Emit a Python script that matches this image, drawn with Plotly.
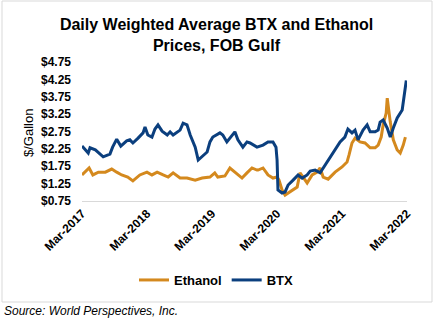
import plotly.graph_objects as go

btx_dates = ["2017-03-01","2017-04-05","2017-04-15","2017-05-15","2017-06-28","2017-08-05","2017-08-20",
             "2017-09-12","2017-10-05","2017-11-07","2017-11-25","2017-12-12","2018-01-10","2018-02-07",
             "2018-02-18","2018-03-06","2018-03-29","2018-04-15","2018-05-02","2018-05-25","2018-06-23",
             "2018-07-09","2018-07-26","2018-08-17","2018-09-03","2018-09-20","2018-10-12","2018-10-30",
             "2018-11-27","2018-12-14","2019-01-05","2019-02-02","2019-02-18","2019-03-06","2019-04-15",
             "2019-05-01","2019-05-24","2019-06-21","2019-07-08","2019-07-25","2019-08-22","2019-09-14",
             "2019-10-01","2019-11-09","2019-12-13","2020-01-10","2020-02-07","2020-02-24","2020-03-01",
             "2020-03-06","2020-03-29","2020-04-15","2020-05-02","2020-05-30","2020-06-27","2020-07-20",
             "2020-08-17","2020-09-03","2020-10-01","2020-10-29","2020-11-26","2020-12-24","2021-01-21",
             "2021-02-18","2021-03-17","2021-04-03","2021-04-26","2021-05-13","2021-05-30","2021-06-27",
             "2021-07-20","2021-08-06","2021-09-03","2021-09-20","2021-10-01","2021-10-18","2021-11-10",
             "2021-11-27","2021-12-14","2022-01-05","2022-02-02","2022-02-14","2022-02-20","2022-02-25"]
btx_values = [2.33,2.13,2.28,2.22,2.02,2.10,2.30,
              2.53,2.33,2.48,2.51,2.42,2.56,2.71,
              2.88,2.65,2.59,2.82,2.94,2.76,2.65,
              2.74,2.65,2.74,2.79,2.99,2.94,2.65,
              2.30,1.93,2.02,2.16,2.45,2.59,2.71,
              2.65,2.45,2.62,2.74,2.51,2.30,2.45,
              2.42,2.30,2.36,2.45,2.45,2.30,1.93,
              1.07,0.98,1.01,1.21,1.35,1.50,1.41,
              1.50,1.61,1.64,1.56,1.79,1.99,2.22,
              2.45,2.59,2.82,2.71,2.79,2.51,2.79,
              2.94,2.74,2.74,2.79,3.02,3.08,2.85,
              2.59,2.85,3.14,3.37,3.86,4.17,4.22]

eth_dates = ["2017-03-01","2017-04-10","2017-05-01","2017-06-01","2017-07-10","2017-08-15","2017-09-12",
             "2017-10-10","2017-11-13","2017-12-12","2018-01-20","2018-03-01","2018-03-29","2018-04-27",
             "2018-05-31","2018-06-28","2018-07-26","2018-09-03","2018-10-12","2018-11-27","2019-01-05",
             "2019-02-18","2019-03-17","2019-04-03","2019-05-13","2019-06-10","2019-07-08","2019-08-17",
             "2019-09-14","2019-10-12","2019-11-09","2019-11-15","2019-12-13","2020-01-10","2020-02-07",
             "2020-03-01","2020-03-12","2020-03-29","2020-04-15","2020-05-13","2020-06-22","2020-07-08",
             "2020-07-25","2020-08-17","2020-09-14","2020-10-12","2020-10-29","2020-11-15","2020-12-13",
             "2021-01-21","2021-03-01","2021-03-29","2021-04-09","2021-04-26","2021-05-13","2021-06-10",
             "2021-07-08","2021-08-06","2021-09-03","2021-09-20","2021-10-07","2021-10-18","2021-11-04",
             "2021-11-10","2021-11-27","2021-12-14","2022-01-05","2022-01-22","2022-02-08","2022-02-20"]
eth_values = [1.50,1.70,1.50,1.58,1.58,1.67,1.58,
              1.50,1.44,1.33,1.50,1.58,1.50,1.58,
              1.50,1.44,1.56,1.41,1.41,1.35,1.41,
              1.44,1.56,1.44,1.47,1.70,1.58,1.41,
              1.56,1.70,1.64,1.64,1.70,1.50,1.41,
              1.44,1.35,1.07,0.92,1.01,1.15,1.56,
              1.44,1.27,1.50,1.58,1.70,1.44,1.38,
              1.58,1.73,1.87,2.07,2.42,2.56,2.45,
              2.42,2.28,2.28,2.36,2.59,2.94,3.28,
              3.71,3.02,2.51,2.22,2.13,2.36,2.59]

y_ticks = [0.75,1.25,1.75,2.25,2.75,3.25,3.75,4.25,4.75]
y_labels = ["$0.75","$1.25","$1.75","$2.25","$2.75","$3.25","$3.75","$4.25","$4.75"]
x_ticks = ["2017-03-01","2018-03-01","2019-03-01","2020-03-01","2021-03-01","2022-03-01"]
x_labels = ["Mar-2017","Mar-2018","Mar-2019","Mar-2020","Mar-2021","Mar-2022"]

FONT = "Liberation Sans, Arial, sans-serif"
ETH = "#D4891E"
BTX = "#0B3F7E"

fig = go.Figure()
fig.add_trace(go.Scatter(x=eth_dates, y=eth_values, name="Ethanol", mode="lines",
                         line=dict(color=ETH, width=3)))
fig.add_trace(go.Scatter(x=btx_dates, y=btx_values, name="BTX", mode="lines",
                         line=dict(color=BTX, width=3)))

W, H = 433, 321
L, R, T, B = 82, 26, 62, 120
pw, ph = W - L - R, H - T - B

def px(xp):
    return (xp - L) / pw

def py(yp):
    return (H - B - yp) / ph

fig.update_layout(
    width=W, height=H,
    margin=dict(l=L, r=R, t=T, b=B, pad=0),
    paper_bgcolor="white", plot_bgcolor="white",
    font=dict(family=FONT, color="black"),
    title=dict(text="Daily Weighted Average BTX and Ethanol<br>Prices, FOB Gulf",
               x=0.5, xanchor="center", y=1 - 30 / H, yanchor="middle",
               font=dict(size=16, family=FONT, weight="bold", color="black")),
    xaxis=dict(type="date", range=["2017-03-01", "2022-03-01"],
               tickvals=x_ticks, ticktext=x_labels, tickangle=-45,
               tickfont=dict(size=12, weight="bold", family=FONT),
               showgrid=False, zeroline=False, showline=True,
               linecolor="#D9D9D9", linewidth=1, ticks=""),
    yaxis=dict(range=[0.75, 4.75], tickvals=y_ticks, ticktext=y_labels,
               tickfont=dict(size=12, weight="bold", family=FONT),
               showgrid=False, zeroline=False, showline=False, ticks="",
               ticklabelstandoff=10),
    legend=dict(orientation="h", xref="container", x=0.5, xanchor="center",
                yref="container", y=1 - 280 / H, yanchor="middle",
                font=dict(size=13, weight="bold", family=FONT),
                itemwidth=30, bgcolor="rgba(0,0,0,0)"),
    showlegend=True,
)

fig.add_shape(type="rect", xref="paper", yref="paper",
              x0=px(2), x1=px(432), y0=py(302), y1=py(1),
              line=dict(color="#D9D9D9", width=1), fillcolor="rgba(0,0,0,0)", layer="below")

fig.add_annotation(text="$/Gallon", xref="paper", yref="paper",
                   x=px(28), y=py(133), xanchor="center", yanchor="middle",
                   textangle=-90, showarrow=False,
                   font=dict(size=13, family=FONT, color="black"))

fig.add_annotation(text="Source: World Perspectives, Inc.", xref="paper", yref="paper",
                   x=px(2), y=py(311), xanchor="left", yanchor="middle", showarrow=False,
                   font=dict(size=12, family=FONT, style="italic", color="black"))

fig.write_html("out.html")
